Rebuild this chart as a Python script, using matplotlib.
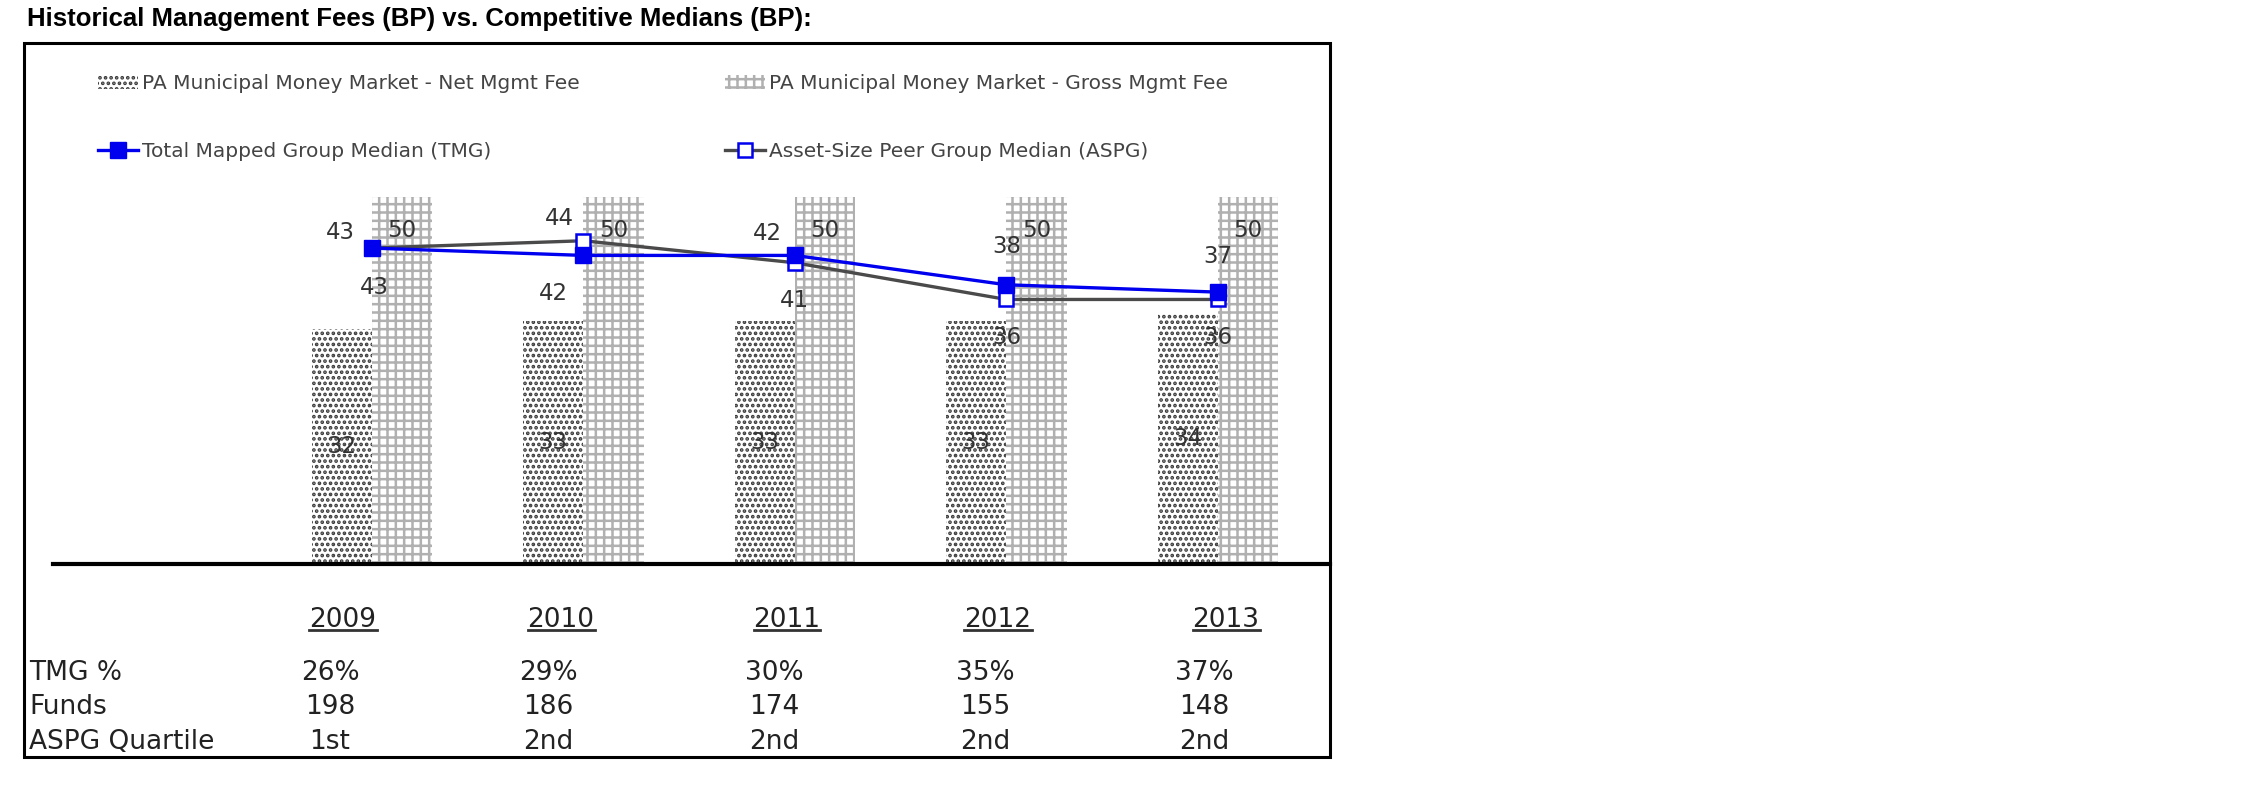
import matplotlib
matplotlib.use("Agg")
import matplotlib.pyplot as plt
from matplotlib.lines import Line2D
from matplotlib.patches import Rectangle

# datos
years = ["2009", "2010", "2011", "2012", "2013"]
net_fee = [32, 33, 33, 33, 34]
gross_fee = [50, 50, 50, 50, 50]
tmg_median = [43, 42, 42, 38, 37]
aspg_median = [43, 44, 41, 36, 36]
tmg_pct = ["26%", "29%", "30%", "35%", "37%"]
funds = [198, 186, 174, 155, 148]
aspg_quartile = ["1st", "2nd", "2nd", "2nd", "2nd"]
row_names = ["TMG %", "Funds", "ASPG Quartile"]

W, H = 2250, 796
plt.rcParams["hatch.linewidth"] = 1.8
fig = plt.figure(figsize=(W / 100, H / 100), dpi=100)


def fx(px):
    return px / W


def fy(py):
    return 1 - py / H


# eje principal
ax = fig.add_axes([fx(53), fy(563.7), (1330 - 53) / W, (563.7 - 160) / H])
x = list(range(len(years)))
w = 0.285

net_bars = ax.bar([i - w / 2 for i in x], net_fee, w, facecolor="white",
                  edgecolor="#3a3a3a", hatch="...", linewidth=0,
                  label="PA Municipal Money Market - Net Mgmt Fee")
gross_bars = ax.bar([i + w / 2 for i in x], gross_fee, w, facecolor="white",
                    edgecolor="#b0b0b0", hatch="++", linewidth=0,
                    label="PA Municipal Money Market - Gross Mgmt Fee")

aspg_line, = ax.plot(x, aspg_median, color="#4a4a4a", lw=2.4, marker="s",
                     markersize=10.5, markerfacecolor="white", markeredgecolor="#0000ee",
                     markeredgewidth=1.8, label="Asset-Size Peer Group Median (ASPG)", zorder=4)
tmg_line, = ax.plot(x, tmg_median, color="#0000ee", lw=2.4, marker="s",
                    markersize=11, markerfacecolor="#0000ee", markeredgecolor="#0000ee",
                    label="Total Mapped Group Median (TMG)", zorder=5)

lab_kw = dict(fontsize=16.5, color="#333333", ha="center", va="center",
              textcoords="offset points", zorder=6)

for i in x:
    ax.annotate(str(net_fee[i]), (i - w / 2, net_fee[i] / 2), xytext=(0, 0), **lab_kw)
    ax.annotate(str(gross_fee[i]), (i + w / 2, gross_fee[i]), xytext=(0, -24), **lab_kw)

# posiciones de etiquetas en px (dx, dy hacia abajo)
tmg_off = [(-32, -16), (-30, 38), (-28, -22), (0, -38), (0, -36)]
aspg_off = [(2, 39), (-24, -22), (0, 38), (0, 38), (0, 38)]
for i in x:
    dx, dy = tmg_off[i]
    ax.annotate(str(tmg_median[i]), (i, tmg_median[i]), xytext=(dx * 0.72, -dy * 0.72), **lab_kw)
    dx, dy = aspg_off[i]
    ax.annotate(str(aspg_median[i]), (i, aspg_median[i]), xytext=(dx * 0.72, -dy * 0.72), **lab_kw)

ax.set_xlim(-1.508, 4.530)
ax.set_ylim(0, 55)
ax.set_xticks([])
ax.set_yticks([])
for s in ["top", "left", "right"]:
    ax.spines[s].set_visible(False)
ax.spines["bottom"].set_linewidth(3)
ax.spines["bottom"].set_color("black")

# leyenda
fig.legend([net_bars, tmg_line, gross_bars, aspg_line],
           [net_bars.get_label(), tmg_line.get_label(), gross_bars.get_label(), aspg_line.get_label()],
           loc="upper left", bbox_to_anchor=(fx(98), fy(74)), ncol=2, frameon=False,
           fontsize=14.5, labelcolor="#444444", handlelength=2.0, handleheight=0.7,
           handletextpad=0.2, labelspacing=2.42, columnspacing=7.2,
           borderpad=0, borderaxespad=0)

# titulo y marco
fig.text(fx(27), fy(26), "Historical Management Fees (BP) vs. Competitive Medians (BP):",
         fontsize=18.5, fontweight="bold", family="Liberation Sans", va="baseline")
fig.add_artist(Rectangle((fx(24), fy(757)), (1330 - 24) / W, (757 - 43) / H,
                         transform=fig.transFigure, fill=False, lw=2.2, ec="black"))

# tabla inferior
year_x = [343, 561, 787, 998, 1226]
col_x = [330, 548, 774, 985, 1204]
row_y = [673, 707, 742]
tab_kw = dict(fontsize=19, color="#222222", va="center")

year_texts = []
for i, yr in enumerate(years):
    year_texts.append(fig.text(fx(year_x[i]), fy(620), yr, ha="center", **tab_kw))

rows = [tmg_pct, [str(f) for f in funds], aspg_quartile]
for r, vals in enumerate(rows):
    fig.text(fx(29), fy(row_y[r]), row_names[r], ha="left", **tab_kw)
    for i, v in enumerate(vals):
        fig.text(fx(col_x[i]), fy(row_y[r]), v, ha="center", **tab_kw)

fig.canvas.draw()
rend = fig.canvas.get_renderer()
for t in year_texts:
    bb = t.get_window_extent(rend)
    yy = (bb.y0 + 3) / H
    fig.add_artist(Line2D([bb.x0 / W, bb.x1 / W], [yy, yy], transform=fig.transFigure,
                          color="#333333", lw=2))

fig.savefig("out.png", dpi=100)
